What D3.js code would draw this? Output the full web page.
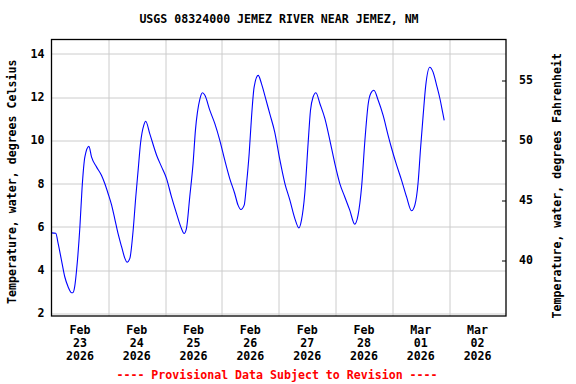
<!DOCTYPE html>
<html>
<head>
<meta charset="utf-8">
<script src="https://cdn.jsdelivr.net/npm/d3@7"></script>
<style>
  body { margin: 0; background: #fff; }
  text { font-family: "DejaVu Sans Mono", "Liberation Mono", monospace; font-weight: bold; font-size: 11.6px; }
</style>
</head>
<body>
<svg id="chart" width="576" height="384"></svg>
<script>
// hours since 2026-02-23 00:00 (local, MST)
const obsHours = [0, 1.8, 2.8, 4.2, 5.6, 7.0, 8.5, 9.0, 9.8, 10.6, 12.0, 12.9, 14.1, 15.8, 16.9, 19.0,
  21.1, 22.5, 23.9, 25.4, 26.7, 28.1, 29.6, 31.0, 31.9, 33.1, 34.5, 35.6, 36.6, 37.6, 39.0, 39.8,
  41.5, 44.4, 46.5, 48.6, 50.7, 52.8, 54.9, 56.0, 57.0, 58.4, 59.8, 60.8, 62.7, 63.8, 64.8, 66.9,
  69.0, 71.1, 73.2, 75.3, 77.4, 78.8, 80.0, 81.4, 82.4, 83.5, 84.5, 85.6, 87.3, 88.7, 90.1, 92.2,
  94.3, 96.5, 98.6, 100.7, 102.8, 104.5, 105.6, 107.0, 108.4, 109.4, 110.5, 111.7, 113.4, 115.5,
  117.6, 119.7, 121.8, 123.9, 126.0, 128.1, 129.5, 131.0, 132.4, 133.8, 134.8, 136.2, 138.0, 140.1,
  142.2, 143.7, 145.8, 147.9, 150.0, 152.1, 153.5, 154.9, 155.9, 157.0, 158.1, 159.8, 161.2, 162.7,
  164.1, 165.2, 165.9];
const tempC = [5.72, 5.70, 5.23, 4.46, 3.69, 3.23, 2.95, 2.95, 3.23, 4.0, 6.0, 7.77, 9.23, 9.72, 9.23, 8.77,
  8.38, 8.0, 7.54, 7.0, 6.38, 5.69, 5.08, 4.54, 4.36, 4.54, 5.85, 7.38, 8.62, 9.85, 10.7, 10.88,
  10.31, 9.31, 8.77, 8.23, 7.38, 6.62, 5.92, 5.69, 5.92, 7.38, 8.92, 10.46, 11.92, 12.2, 12.08, 11.38,
  10.77, 10.0, 9.08, 8.23, 7.54, 7.0, 6.80, 7.0, 8.0, 9.38, 11.08, 12.46, 13.0, 12.62, 12.08, 11.23,
  10.38, 9.08, 8.0, 7.23, 6.38, 5.95, 6.31, 7.54, 9.85, 11.38, 12.0, 12.2, 11.69, 11.0,
  10.0, 8.92, 8.0, 7.38, 6.77, 6.12, 6.54, 7.85, 10.0, 11.69, 12.15, 12.31, 11.85, 11.15,
  10.23, 9.62, 8.85, 8.15, 7.38, 6.74, 7.0, 8.08, 9.62, 11.15, 12.54, 13.38, 13.15, 12.54,
  11.92, 11.31, 10.92];
const celsiusTicks = [2, 4, 6, 8, 10, 12, 14];
const fahrenheitTicks = [40, 45, 50, 55];
const dayTicks = ['2026-02-23', '2026-02-24', '2026-02-25', '2026-02-26', '2026-02-27', '2026-02-28', '2026-03-01', '2026-03-02'];
const title = 'USGS 08324000 JEMEZ RIVER NEAR JEMEZ, NM';
const leftLabel = 'Temperature, water, degrees Celsius';
const rightLabel = 'Temperature, water, degrees Fahrenheit';
const footnote = '---- Provisional Data Subject to Revision ----';

const margin = { top: 39.5, left: 51.5, right: 70, bottom: 68 };
const W = 576, H = 384;
const width = W - margin.left - margin.right;
const height = H - margin.top - margin.bottom;
const parseDay = d3.timeParse('%Y-%m-%d');
const start = parseDay('2026-02-23');
const end = parseDay('2026-03-03');

const x = d3.scaleTime().domain([start, end]).range([0, width]);
const yDomain = [1.875, 14.66];
const y = d3.scaleLinear().domain(yDomain).range([height, 0]);
const yF = d3.scaleLinear().domain(yDomain.map(c => c * 1.8 + 32)).range([height, 0]);
const crisp = v => Math.round(v) + 0.5;

const svg = d3.select('#chart');
const chart = svg.append('g').attr('transform', `translate(${margin.left},${margin.top})`);

// grid: every 2 C and every midnight
chart.append('g').selectAll('line').data(celsiusTicks).join('line')
  .attr('x1', 0).attr('x2', width)
  .attr('y1', d => crisp(y(d))).attr('y2', d => crisp(y(d)))
  .attr('stroke', '#cccccc');
chart.append('g').selectAll('line').data(dayTicks.slice(1).map(parseDay)).join('line')
  .attr('x1', d => crisp(x(d))).attr('x2', d => crisp(x(d)))
  .attr('y1', 0).attr('y2', height)
  .attr('stroke', '#cccccc');

// data line
const data = obsHours.map((h, i) => ({ t: new Date(start.getTime() + h * 3600e3), v: tempC[i] }));
chart.append('path').datum(data)
  .attr('fill', 'none').attr('stroke', '#0000ff').attr('stroke-width', 1.1)
  .attr('d', d3.line().x(d => x(d.t)).y(d => y(d.v)).curve(d3.curveMonotoneX));

// frame
chart.append('rect').attr('x', 0).attr('y', 0).attr('width', width).attr('height', height)
  .attr('fill', 'none').attr('stroke', '#000').attr('stroke-width', 1.3);

// left axis labels
chart.append('g').selectAll('text').data(celsiusTicks).join('text')
  .attr('x', -7).attr('y', d => y(d)).attr('dy', '0.35em')
  .attr('text-anchor', 'end').text(d => d);

// right axis (Fahrenheit) ticks and labels
const right = chart.append('g').attr('transform', `translate(${width},0)`);
right.selectAll('line').data(fahrenheitTicks).join('line')
  .attr('x1', -4).attr('x2', 0)
  .attr('y1', d => crisp(yF(d))).attr('y2', d => crisp(yF(d)))
  .attr('stroke', '#000');
right.selectAll('text').data(fahrenheitTicks).join('text')
  .attr('x', 13).attr('y', d => yF(d)).attr('dy', '0.35em')
  .text(d => d);

// x labels, centred at noon of each day
const fmtLines = [d3.timeFormat('%b'), d3.timeFormat('%d'), d3.timeFormat('%Y')];
const noon = d => x(d3.timeHour.offset(d, 12));
const xl = chart.append('g').selectAll('text').data(dayTicks.map(parseDay)).join('text')
  .attr('text-anchor', 'middle')
  .attr('x', noon)
  .attr('y', height + 18);
fmtLines.forEach((f, i) => {
  xl.append('tspan').attr('x', noon).attr('dy', i === 0 ? 0 : 12.8).text(d => f(d));
});

// titles
svg.append('text').attr('x', 279).attr('y', 23).attr('text-anchor', 'middle').text(title);
svg.append('text').attr('transform', `translate(16,${margin.top + height / 2 + 4}) rotate(-90)`)
  .attr('text-anchor', 'middle').text(leftLabel);
svg.append('text').attr('transform', `translate(561,${margin.top + height / 2 + 8}) rotate(-90)`)
  .attr('text-anchor', 'middle').text(rightLabel);
svg.append('text').attr('x', 277).attr('y', 379).attr('text-anchor', 'middle')
  .attr('fill', '#ff0000').text(footnote);
</script>
</body>
</html>
